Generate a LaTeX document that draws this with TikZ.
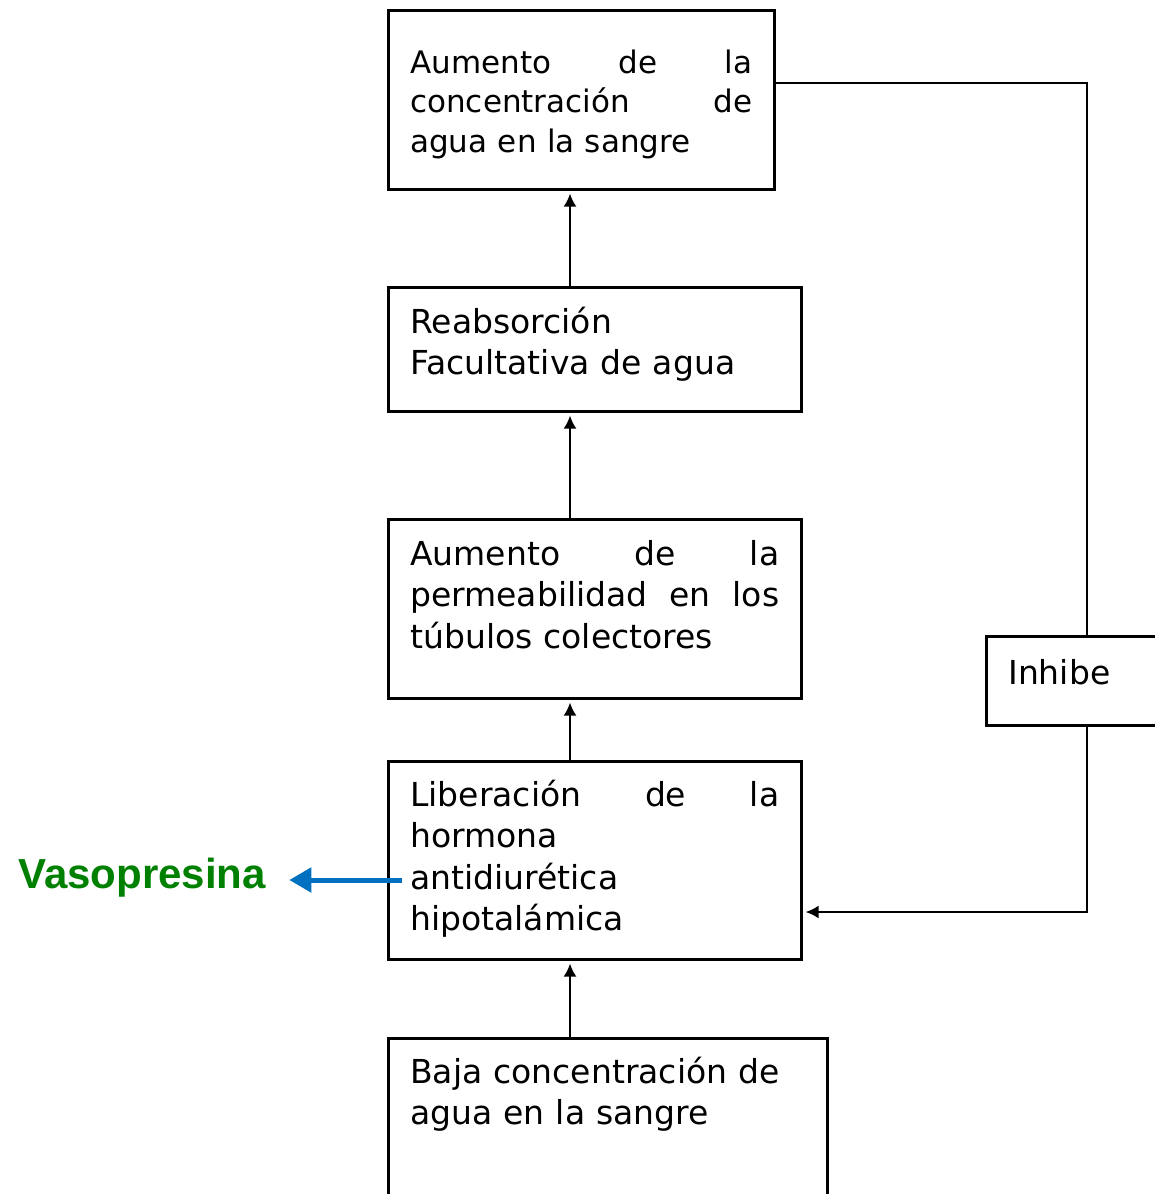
\documentclass[tikz,border=0pt]{standalone}
\usepackage{fontspec}
\usepackage{xcolor}
\setmainfont{DejaVu Sans}
\newfontfamily\vasofont{Liberation Sans}
\usetikzlibrary{positioning, arrows.meta}
\definecolor{vasogreen}{RGB}{0,128,0}
\definecolor{vasoblue}{RGB}{0,112,192}

\begin{document}
\begin{tikzpicture}[x=0.5pt,y=-0.5pt,>=Latex,
  box/.style={draw,line width=1.3pt,rectangle,anchor=north west,
    inner xsep=11pt,inner ysep=0pt,align=left,
    font=\fontsize{16.5}{20.75}\selectfont},
  link/.style={-{Latex[length=6.5pt,width=6.5pt]},line width=1pt,shorten >=1.5pt},
  feed/.style={line width=1pt},
  vasoarrow/.style={-{Triangle[length=11pt,width=12pt]},vasoblue,line width=2.5pt}]
  \useasboundingbox (0,0) rectangle (1155,1194);
  \clip (0,0) rectangle (1155,1194);
  % boxes, top to bottom
  \node[box,text width=171pt,text height=31.5pt,text depth=58pt,
        font=\fontsize{15.5}{19.75}\selectfont] (conc) at (387,9)
       {Aumento \hfill de \hfill la\\concentración \hfill de\\agua en la sangre};
  \node[box,text width=184.5pt,text height=23pt,text depth=39pt] (reab) at (387,286)
       {Reabsorción\\Facultativa de agua};
  \node[box,text width=184.5pt,text height=23pt,text depth=66.5pt] (perm) at (387,518)
       {Aumento \hfill de \hfill la\\permeabilidad \hfill en \hfill los\\túbulos colectores};
  \node[box,text width=184.5pt,text height=22.5pt,text depth=76.5pt] (lib) at (387,760)
       {Liberación \hfill de \hfill la\\hormona\\antidiurética\\hipotalámica};
  \node[box,text width=197.5pt,text height=22.5pt,text depth=90pt] (baja) at (387,1037)
       {Baja concentración de\\agua en la sangre};
  \node[box,text width=80pt,text height=24pt,text depth=20.5pt] (inhibe) at (985,635)
       {Inhibe};
  \node[font=\vasofont\bfseries\fontsize{21}{25}\selectfont,text=vasogreen,
        anchor=base west,inner sep=0pt] (vaso) at (18,888){Vasopresina};
  % upward chain
  \coordinate (axis) at (570,0);
  \draw[link] (baja.north -| axis) -- (lib.south -| axis);
  \draw[link] (lib.north -| axis) -- (perm.south -| axis);
  \draw[link] (perm.north -| axis) -- (reab.south -| axis);
  \draw[link] (reab.north -| axis) -- (conc.south -| axis);
  % feedback loop
  \coordinate (fbtop) at (1087,83);
  \coordinate (fbbot) at (1087,912);
  \draw[feed] (conc.east |- fbtop) -- (fbtop) -- (inhibe.north -| fbtop);
  \draw[link] (inhibe.south -| fbbot) -- (fbbot) -- (lib.east |- fbbot);
  % hormone release
  \coordinate (vstart) at (402,880);
  \draw[vasoarrow,shorten >=11.5pt] (vstart) -- (vstart -| vaso.east);
\end{tikzpicture}
\end{document}
